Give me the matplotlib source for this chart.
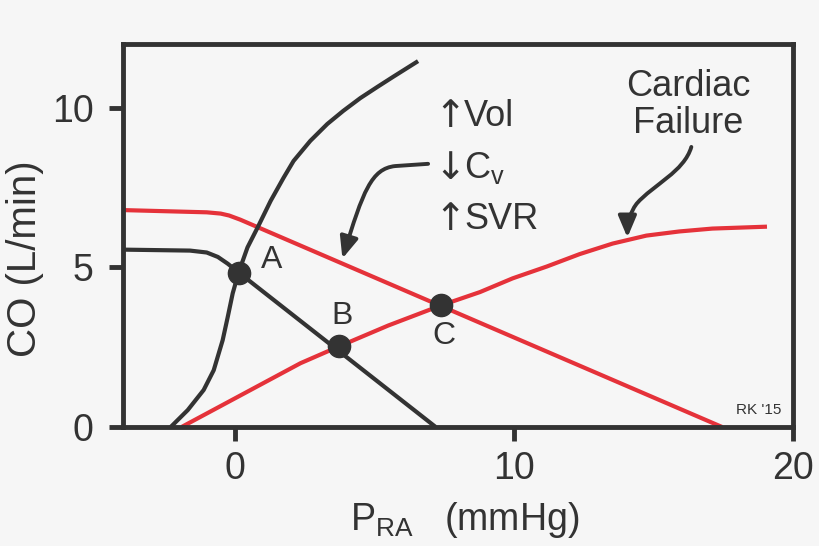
import matplotlib
matplotlib.use('Agg')
import matplotlib.pyplot as plt
from matplotlib.path import Path
from matplotlib.patches import FancyArrowPatch

plt.rcParams['font.family'] = ['Liberation Sans', 'DejaVu Sans']
plt.rcParams['mathtext.fontset'] = 'custom'
plt.rcParams['mathtext.rm'] = 'Liberation Sans'

# cardiac function curve (normal)
cf_x = [-2.29, -1.68, -1.11, -0.75, -0.43, -0.25, -0.07, 0.14, 0.46, 0.82, 1.29, 1.75, 2.11,
        2.71, 3.32, 3.89, 4.5, 5.11, 5.68, 6.57]
cf_y = [0.0, 0.53, 1.16, 1.78, 2.72, 3.44, 4.19, 4.84, 5.63, 6.25, 7.09, 7.81, 8.34,
        8.97, 9.5, 9.91, 10.31, 10.66, 10.98, 11.47]

# cardiac failure curve
fail_x = [-1.9, 2.36, 3.75, 5.5, 7.39, 8.79, 9.96, 11.18, 12.36, 13.54, 14.75, 15.93, 17.11, 19.07]
fail_y = [0.0, 2.0, 2.53, 3.18, 3.81, 4.23, 4.66, 5.03, 5.42, 5.75, 6.0, 6.13, 6.22, 6.28]

# venous return (normal)
vr_x = [-4, -1.6, -1.0, -0.6, -0.25, 0.15, 7.2]
vr_y = [5.56, 5.53, 5.47, 5.33, 5.12, 4.84, 0.0]

# venous return (more volume, lower Cv, higher SVR)
vr2_x = [-4, -1.0, -0.5, -0.2, 0.2, 17.46]
vr2_y = [6.8, 6.73, 6.69, 6.63, 6.5, 0.0]

# equilibrium points
pt_labels = ['A', 'B', 'C']
pt_x = [0.15, 3.75, 7.39]
pt_y = [4.84, 2.53, 3.81]

xticks = [0, 10, 20]
yticks = [0, 5, 10]

dark = '#333333'
red = '#e5323a'
bg = '#f6f6f6'

fig = plt.figure(figsize=(8.2, 5.46), dpi=100, facecolor=bg)
ax = fig.add_axes([0.15, 0.218, 0.817, 0.701], facecolor=bg)

ax.plot(vr2_x, vr2_y, color=red, lw=3, solid_capstyle='butt', zorder=2)
ax.plot(fail_x, fail_y, color=red, lw=3, solid_capstyle='butt', zorder=2)
ax.plot(cf_x, cf_y, color=dark, lw=3, solid_capstyle='butt', zorder=3)
ax.plot(vr_x, vr_y, color=dark, lw=3, solid_capstyle='butt', zorder=3)
ax.plot(pt_x, pt_y, 'o', color=dark, ms=16, zorder=4)

# point labels
ax.text(pt_x[0] + 0.8, pt_y[0] + 0.4, pt_labels[0], fontsize=23, color=dark, ha='left', va='center')
ax.text(pt_x[1] + 0.1, pt_y[1] + 0.95, pt_labels[1], fontsize=23, color=dark, ha='center', va='center')
ax.text(pt_x[2] + 0.1, pt_y[2] - 0.95, pt_labels[2], fontsize=23, color=dark, ha='center', va='center')

# annotations
arr_font = ['DejaVu Sans']
for yb, arrow, label in [(9.44, '↑', 'Vol'), (7.81, '↓', r'C$_\mathregular{v}$'), (6.22, '↑', 'SVR')]:
    ax.text(7.72, yb - 0.05, arrow, fontsize=27, color=dark, ha='center', va='baseline',
            family=arr_font)
    ax.text(8.22, yb, label, fontsize=26, color=dark, ha='left', va='baseline')
ax.text(16.25, 10.1, 'Cardiac\nFailure', fontsize=26, color=dark, ha='center', va='center',
        linespacing=1.08)
ax.text(19.6, 0.3, "RK '15", fontsize=11, color=dark, ha='right', va='bottom')

style = '-|>,head_length=13,head_width=5.5'
p1 = Path([(6.93, 8.25), (5.75, 8.18), (4.9, 8.1), (4.6, 7.4), (3.86, 5.28)],
          [Path.MOVETO, Path.LINETO, Path.CURVE4, Path.CURVE4, Path.CURVE4])
ax.add_patch(FancyArrowPatch(path=p1, arrowstyle=style, color=dark, lw=2.8, zorder=5))
p2 = Path([(16.36, 8.78), (16.1, 8.0), (15.0, 7.6), (14.4, 7.0), (14.15, 6.7), (14.07, 6.4), (14.07, 5.94)],
          [Path.MOVETO, Path.CURVE4, Path.CURVE4, Path.CURVE4, Path.CURVE4, Path.CURVE4, Path.CURVE4])
ax.add_patch(FancyArrowPatch(path=p2, arrowstyle=style, color=dark, lw=2.8, zorder=5))

ax.set_xlim(-4, 20)
ax.set_ylim(0, 12)
ax.set_xticks(xticks)
ax.set_yticks(yticks)
ax.tick_params(direction='out', length=10, width=3.5, color=dark, labelsize=27, labelcolor=dark)
ax.tick_params(axis='x', pad=7)
ax.tick_params(axis='y', pad=11)
for s in ax.spines.values():
    s.set_linewidth(3.5)
    s.set_color(dark)

ax.set_xlabel(r'P$_\mathregular{RA}$   (mmHg)', fontsize=27, color=dark)
ax.set_ylabel('CO (L/min)', fontsize=29, color=dark)
ax.xaxis.set_label_coords(0.51, -0.19)
ax.yaxis.set_label_coords(-0.118, 0.44)

fig.savefig('out.png', dpi=100, facecolor=bg)
